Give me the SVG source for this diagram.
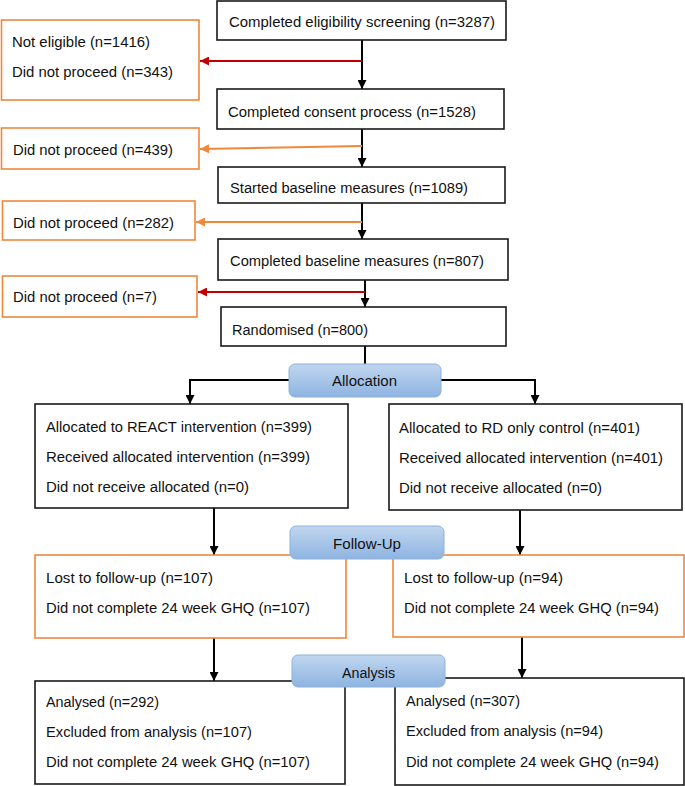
<svg xmlns="http://www.w3.org/2000/svg" width="685" height="786" viewBox="0 0 685 786">
<style>
.box{fill:#fff;stroke:#1a1a1a;stroke-width:1.6}
.obox{fill:#fff;stroke:#f0883c;stroke-width:1.6}
.bbox{fill:url(#blue);stroke:#8db1db;stroke-width:1}
text{font-family:"Liberation Sans",Arial,sans-serif;font-size:15.5px;fill:#111}
.c{stroke:#000;stroke-width:2;fill:none}
.r{stroke:#c00000;stroke-width:2;fill:none}
.o{stroke:#f0883c;stroke-width:2;fill:none}
</style>
<defs>
<linearGradient id="blue" x1="0" y1="0" x2="0" y2="1">
<stop offset="0" stop-color="#c0d6ef"/>
<stop offset="1" stop-color="#8eb4e1"/>
</linearGradient>
<marker id="ak" viewBox="0 0 10 10" refX="10" refY="5" markerWidth="9" markerHeight="9" markerUnits="userSpaceOnUse" orient="auto"><path d="M0,0 L10,5 L0,10 z" fill="#000"/></marker>
<marker id="ar" viewBox="0 0 10 10" refX="10" refY="5" markerWidth="9" markerHeight="9" markerUnits="userSpaceOnUse" orient="auto"><path d="M0,0 L10,5 L0,10 z" fill="#c00000"/></marker>
<marker id="ao" viewBox="0 0 10 10" refX="10" refY="5" markerWidth="9" markerHeight="9" markerUnits="userSpaceOnUse" orient="auto"><path d="M0,0 L10,5 L0,10 z" fill="#f0883c"/></marker>
</defs>
<rect width="685" height="786" fill="#fff"/>

<g id="connectors">
<line class="c" x1="362" y1="40" x2="362" y2="89" marker-end="url(#ak)"/>
<line class="r" x1="362" y1="61" x2="200" y2="61" marker-end="url(#ar)"/>
<line class="c" x1="362" y1="129" x2="362" y2="167" marker-end="url(#ak)"/>
<line class="o" x1="362" y1="146" x2="200" y2="149" marker-end="url(#ao)"/>
<line class="c" x1="362" y1="203" x2="362" y2="239" marker-end="url(#ak)"/>
<line class="o" x1="362" y1="222" x2="196" y2="222" marker-end="url(#ao)"/>
<line class="c" x1="365" y1="277" x2="365" y2="307" marker-end="url(#ak)"/>
<line class="r" x1="365" y1="292" x2="198" y2="292" marker-end="url(#ar)"/>
<line class="c" x1="365" y1="346" x2="365" y2="364"/>
<polyline class="c" points="289,380 190,380 190,404" marker-end="url(#ak)"/>
<polyline class="c" points="441,380 535,380 535,404" marker-end="url(#ak)"/>
<line class="c" x1="214" y1="508" x2="214" y2="555" marker-end="url(#ak)"/>
<line class="c" x1="520" y1="510" x2="520" y2="555" marker-end="url(#ak)"/>
<line class="c" x1="214" y1="638" x2="214" y2="681" marker-end="url(#ak)"/>
<line class="c" x1="522" y1="637" x2="522" y2="678" marker-end="url(#ak)"/>
</g>

<g id="screening"><rect class="box" x="217" y="1" width="289" height="39"/><text x="229" y="27" textLength="266" lengthAdjust="spacingAndGlyphs">Completed eligibility screening (n=3287)</text></g>
<g id="excl1"><rect class="obox" x="1.5" y="20" width="197.5" height="80"/><text x="12" y="47" textLength="138" lengthAdjust="spacingAndGlyphs">Not eligible (n=1416)</text><text x="12" y="77" textLength="161" lengthAdjust="spacingAndGlyphs">Did not proceed (n=343)</text></g>
<g id="consent"><rect class="box" x="217" y="89" width="287" height="40"/><text x="228" y="117" textLength="248" lengthAdjust="spacingAndGlyphs">Completed consent process (n=1528)</text></g>
<g id="excl2"><rect class="obox" x="1.5" y="128" width="197.5" height="41"/><text x="13" y="155" textLength="160" lengthAdjust="spacingAndGlyphs">Did not proceed (n=439)</text></g>
<g id="started"><rect class="box" x="218" y="167" width="287" height="36"/><text x="230" y="193" textLength="238" lengthAdjust="spacingAndGlyphs">Started baseline measures (n=1089)</text></g>
<g id="excl3"><rect class="obox" x="2.5" y="201" width="192.5" height="39"/><text x="13" y="228" textLength="161" lengthAdjust="spacingAndGlyphs">Did not proceed (n=282)</text></g>
<g id="completed"><rect class="box" x="218" y="239" width="290" height="41"/><text x="230" y="266" textLength="254" lengthAdjust="spacingAndGlyphs">Completed baseline measures (n=807)</text></g>
<g id="excl4"><rect class="obox" x="2.5" y="276" width="194.5" height="41"/><text x="13" y="302" textLength="144" lengthAdjust="spacingAndGlyphs">Did not proceed (n=7)</text></g>
<g id="randomised"><rect class="box" x="221" y="307" width="285" height="39"/><text x="232" y="335" textLength="136" lengthAdjust="spacingAndGlyphs">Randomised (n=800)</text></g>

<g id="alloc-react"><rect class="box" x="35" y="404" width="313" height="104"/>
<text x="46" y="432" textLength="266" lengthAdjust="spacingAndGlyphs">Allocated to REACT intervention (n=399)</text>
<text x="46" y="462" textLength="264" lengthAdjust="spacingAndGlyphs">Received allocated intervention (n=399)</text>
<text x="46" y="492" textLength="203" lengthAdjust="spacingAndGlyphs">Did not receive allocated (n=0)</text></g>
<g id="alloc-rd"><rect class="box" x="389" y="404" width="293" height="106"/>
<text x="399" y="433" textLength="241" lengthAdjust="spacingAndGlyphs">Allocated to RD only control (n=401)</text>
<text x="399" y="463" textLength="264" lengthAdjust="spacingAndGlyphs">Received allocated intervention (n=401)</text>
<text x="399" y="493" textLength="203" lengthAdjust="spacingAndGlyphs">Did not receive allocated (n=0)</text></g>

<g id="fu-react"><rect class="obox" x="35" y="555" width="311" height="83"/>
<text x="46" y="583" textLength="167" lengthAdjust="spacingAndGlyphs">Lost to follow-up (n=107)</text>
<text x="46" y="613" textLength="264" lengthAdjust="spacingAndGlyphs">Did not complete 24 week GHQ (n=107)</text></g>
<g id="fu-rd"><rect class="obox" x="393" y="555" width="291" height="82"/>
<text x="404" y="583" textLength="159" lengthAdjust="spacingAndGlyphs">Lost to follow-up (n=94)</text>
<text x="404" y="613" textLength="255" lengthAdjust="spacingAndGlyphs">Did not complete 24 week GHQ (n=94)</text></g>

<g id="an-react"><rect class="box" x="35" y="681" width="310" height="103"/>
<text x="46" y="707" textLength="113" lengthAdjust="spacingAndGlyphs">Analysed (n=292)</text>
<text x="46" y="737" textLength="206" lengthAdjust="spacingAndGlyphs">Excluded from analysis (n=107)</text>
<text x="46" y="767" textLength="264" lengthAdjust="spacingAndGlyphs">Did not complete 24 week GHQ (n=107)</text></g>
<g id="an-rd"><rect class="box" x="395" y="678" width="289" height="107"/>
<text x="406" y="706" textLength="114" lengthAdjust="spacingAndGlyphs">Analysed (n=307)</text>
<text x="406" y="736" textLength="197" lengthAdjust="spacingAndGlyphs">Excluded from analysis (n=94)</text>
<text x="406" y="767" textLength="253" lengthAdjust="spacingAndGlyphs">Did not complete 24 week GHQ (n=94)</text></g>

<g id="allocation"><rect class="bbox" x="289" y="364" width="152" height="33" rx="6"/><text x="332" y="386" textLength="65" lengthAdjust="spacingAndGlyphs">Allocation</text></g>
<g id="followup"><rect class="bbox" x="290" y="526" width="154" height="33" rx="6"/><text x="333" y="549" textLength="68" lengthAdjust="spacingAndGlyphs">Follow-Up</text></g>
<g id="analysis"><rect class="bbox" x="292" y="655" width="153" height="32" rx="6"/><text x="342" y="678" textLength="53" lengthAdjust="spacingAndGlyphs">Analysis</text></g>
</svg>
